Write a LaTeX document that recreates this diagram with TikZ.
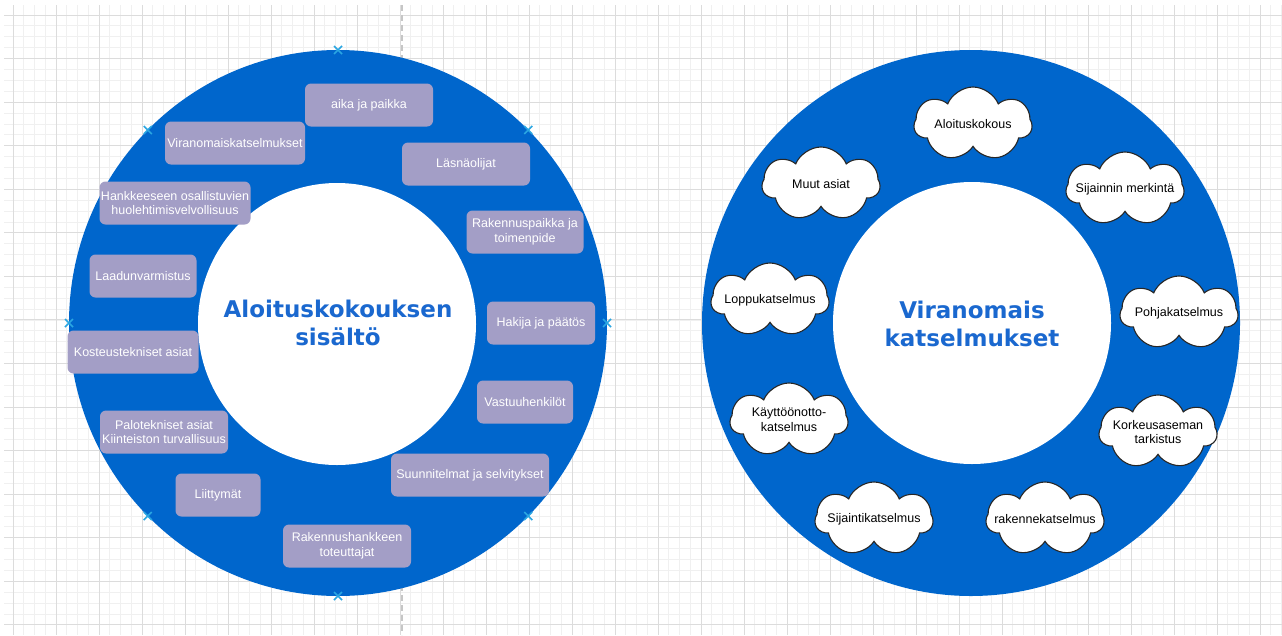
\documentclass[tikz,border=0pt]{standalone}
\usepackage{fontspec}
\setmainfont{Liberation Sans}
\newfontfamily\headfont{DejaVu Sans}
\usetikzlibrary{shapes.symbols}

\definecolor{ringblue}{HTML}{0066CC}
\definecolor{headblue}{HTML}{1A68CF}
\definecolor{boxlilac}{HTML}{A39EC6}
\definecolor{handleblue}{HTML}{2AA6E2}
\definecolor{gridmajor}{HTML}{DCDCDC}
\definecolor{gridminor}{HTML}{F0F0F0}

\begin{document}
\begin{tikzpicture}[x=1pt,y=-1pt]
            \tikzstyle{minor}  = [gridminor, line width=0.8pt]
            \tikzstyle{major}  = [gridmajor, line width=1pt]
            \tikzstyle{ring}   = [fill=ringblue]
            \tikzstyle{hole}   = [fill=white]
            \tikzstyle{handle} = [handleblue, line width=1.6pt]
            \tikzstyle{head}   = [text=headblue, align=center, font=\headfont\bfseries\fontsize{23}{28}\selectfont]
            \tikzstyle{topic}  = [rounded corners=6pt, fill=boxlilac, text=white, minimum height=43pt, inner sep=0pt, align=center, font=\fontsize{12.5}{14.5}\selectfont]
            \tikzstyle{insp}   = [cloud, cloud puffs=7, cloud puff arc=135, cloud ignores aspect, minimum width=118pt, minimum height=74pt, fill=white, draw=black!85, line width=1.1pt, inner xsep=-24pt, inner ysep=0pt, align=center, font=\fontsize{12.5}{14.5}\selectfont]

            \useasboundingbox (0,0) rectangle (1282,635);
            \fill[white] (0,0) rectangle (1282,635);

            % Grid paper .........................
            \foreach \i in {0,...,118} \draw[minor] ({13+10.75*\i},5) -- ({13+10.75*\i},635);
            \foreach \j in {0,...,56}  \draw[minor] (4,{15+10.89*\j}) -- (1282,{15+10.89*\j});
            \foreach \i in {0,...,29}  \draw[major] ({13+43*\i},5) -- ({13+43*\i},635);
            \foreach \j in {0,...,14}  \draw[major] (4,{15+43.57*\j}) -- (1282,{15+43.57*\j});
            \draw[gray!45, line width=2pt, dash pattern=on 6pt off 4pt] (402,5) -- (402,635);

            % Left ring .........................
            \fill[ring] (338,323) ellipse [x radius=269pt, y radius=273pt];
            \fill[hole] (337,324) ellipse [x radius=139pt, y radius=141pt];
            \foreach \a in {0,45,...,315}
                \draw[handle] ({338+269*cos(\a)},{323+273*sin(\a)}) +(-4,-4) -- +(4,4) +(-4,4) -- +(4,-4);

            \node[head] (lhead) at (338,323) {Aloituskokouksen\\sisältö};

            \node[topic, minimum width=128pt] (aika)   at (369,105) {aika ja paikka};
            \node[topic, minimum width=140pt] (virkat) at (235,143) {Viranomaiskatselmukset};
            \node[topic, minimum width=128pt] (lasna)  at (466,164) {Läsnäolijat};
            \node[topic, minimum width=151pt] (huol)   at (175,203) {Hankkeeseen osallistuvien\\huolehtimisvelvollisuus};
            \node[topic, minimum width=117pt] (paikka) at (525,232) {Rakennuspaikka ja\\toimenpide};
            \node[topic, minimum width=107pt] (laatu)  at (143,276) {Laadunvarmistus};
            \node[topic, minimum width=108pt] (hakija) at (541,323) {Hakija ja päätös};
            \node[topic, minimum width=131pt] (kost)   at (133,352) {Kosteustekniset asiat};
            \node[topic, minimum width=96pt]  (vastuu) at (525,402) {Vastuuhenkilöt};
            \node[topic, minimum width=128pt] (palo)   at (164,432) {Palotekniset asiat\\Kiinteiston turvallisuus};
            \node[topic, minimum width=158pt] (suunn)  at (470,475) {Suunnitelmat ja selvitykset};
            \node[topic, minimum width=85pt]  (liitt)  at (218,495) {Liittymät};
            \node[topic, minimum width=128pt] (toteut) at (347,546) {Rakennushankkeen\\toteuttajat};

            % Right ring .........................
            \fill[ring] (971,323) ellipse [x radius=269pt, y radius=273pt];
            \fill[hole] (972,323) ellipse [x radius=139pt, y radius=141pt];

            \node[head] (rhead) at (972,324) {Viranomais\\katselmukset};

            \node[insp] (aloit)  at (973,124) {Aloituskokous};
            \node[insp] (muut)   at (821,184) {Muut asiat};
            \node[insp] (sijm)   at (1125,189) {Sijainnin merkintä};
            \node[insp] (loppu)  at (770,300) {Loppukatselmus};
            \node[insp] (pohja)  at (1179,313) {Pohjakatselmus};
            \node[insp] (kaytto) at (789,420) {Käyttöönotto-\\katselmus};
            \node[insp] (korkeus) at (1158,432) {Korkeusaseman\\tarkistus};
            \node[insp] (sijk)   at (874,519) {Sijaintikatselmus};
            \node[insp] (rakenne) at (1045,519) {rakennekatselmus};

        \end{tikzpicture}
\end{document}
